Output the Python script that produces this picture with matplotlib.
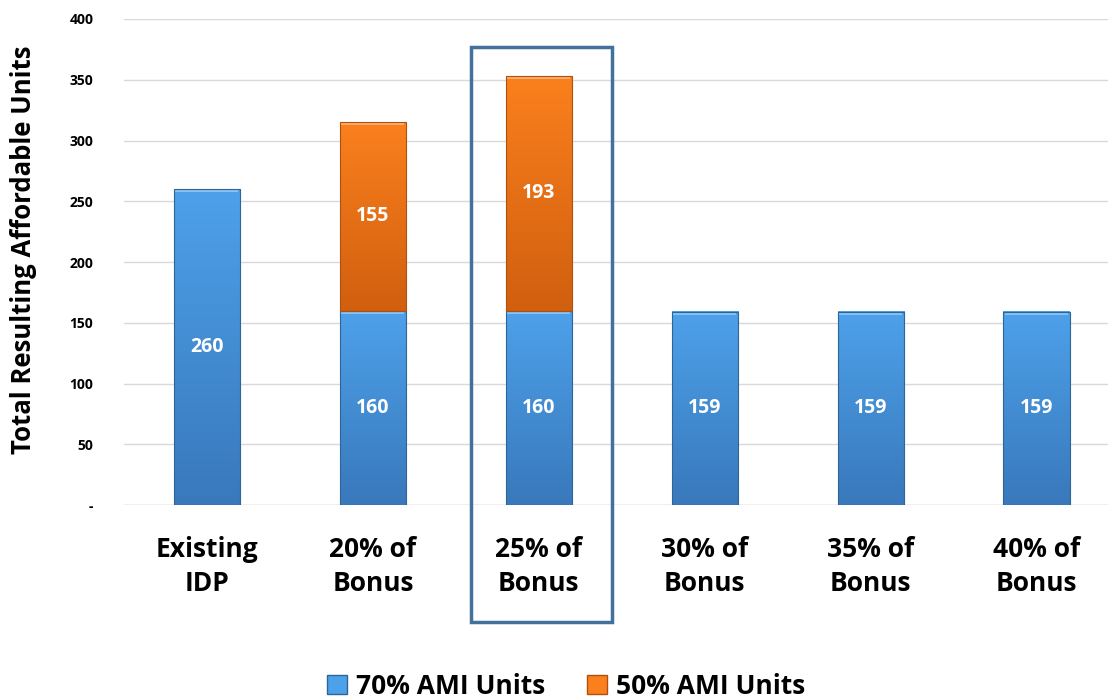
import numpy as np
import matplotlib.pyplot as plt
from matplotlib.colors import LinearSegmentedColormap
from matplotlib.patches import Rectangle

categories = ["Existing\nIDP", "20% of\nBonus", "25% of\nBonus",
              "30% of\nBonus", "35% of\nBonus", "40% of\nBonus"]
ami70 = [260, 160, 160, 159, 159, 159]
ami50 = [0, 155, 193, 0, 0, 0]
series_names = ["70% AMI Units", "50% AMI Units"]
highlight = 2  # the 25% option gets a box around it

plt.rcParams["font.family"] = ["Open Sans", "DejaVu Sans"]
plt.rcParams["font.weight"] = "bold"

BLUE_TOP, BLUE_BOT = "#4da1ea", "#3978bb"
ORANGE_TOP, ORANGE_BOT = "#fb801d", "#d05f0f"
W = 0.4


def gradient_bar(ax, x, bottom, height, top_c, bot_c, edge):
    if height <= 0:
        return
    cmap = LinearSegmentedColormap.from_list("g", [bot_c, top_c])
    grad = np.linspace(0, 1, 256).reshape(-1, 1)
    ax.imshow(grad, cmap=cmap, aspect="auto", origin="lower",
              extent=(x - W / 2, x + W / 2, bottom, bottom + height), zorder=2)
    # light bevel along the top edge
    ax.add_patch(Rectangle((x - W / 2, bottom + height - 4), W, 4,
                           color=top_c, alpha=0.9, lw=0, zorder=3))
    ax.add_patch(Rectangle((x - W / 2 + 0.01, bottom + height - 2.5), W - 0.02, 2.5,
                           color="white", alpha=0.35, lw=0, zorder=3))
    ax.add_patch(Rectangle((x - W / 2, bottom), W, height, fill=False,
                           edgecolor=edge, lw=0.8, zorder=4))


fig = plt.figure(figsize=(11.08, 7.0), dpi=100)
ax = fig.add_axes([124 / 1108, 195 / 700, (1108 - 124) / 1108, 486 / 700])

x = np.arange(len(categories))
for i in x:
    gradient_bar(ax, i, 0, ami70[i], BLUE_TOP, BLUE_BOT, "#2f6496")
    gradient_bar(ax, i, ami70[i], ami50[i], ORANGE_TOP, ORANGE_BOT, "#b0500f")
    ax.text(i, ami70[i] / 2, str(ami70[i]), ha="center", va="center",
            color="white", fontsize=14, fontweight="bold", zorder=5)
    if ami50[i] > 0:
        ax.text(i, ami70[i] + ami50[i] / 2, str(ami50[i]), ha="center", va="center",
                color="white", fontsize=14, fontweight="bold", zorder=5)

ax.set_xlim(-0.5, 5.43)
ax.set_ylim(0, 400)
ax.set_yticks(np.arange(0, 401, 50))
ax.set_yticklabels(["-"] + [str(v) for v in range(50, 401, 50)],
                   fontsize=10, fontweight="bold")
ax.set_xticks(x)
ax.set_xticklabels(categories, fontsize=19, fontweight="bold", linespacing=1.35)
ax.tick_params(axis="both", length=0)
ax.tick_params(axis="y", pad=22)
ax.tick_params(axis="x", pad=22)
ax.grid(axis="y", color="#d9d9d9", lw=1, zorder=0)
ax.set_axisbelow(True)
for s in ax.spines.values():
    s.set_visible(False)
ax.axhline(0, color="#d0d0d0", lw=1, zorder=1)

ax.set_ylabel("Total Resulting Affordable Units", fontsize=18.5, fontweight="bold")
ax.yaxis.set_label_coords(-0.088, 0.525)

box = Rectangle((highlight - 0.41, -96), 0.85, 473, fill=False,
                edgecolor="#41719c", lw=2.5, clip_on=False, zorder=6)
ax.add_patch(box)

handles = [Rectangle((0, 0), 1, 1, facecolor=BLUE_TOP, edgecolor="#2f6496"),
           Rectangle((0, 0), 1, 1, facecolor=ORANGE_TOP, edgecolor="#b0500f")]
fig.legend(handles, series_names, loc="center", bbox_to_anchor=(0.511, 0.02),
           ncol=2, frameon=False, prop={"size": 19, "weight": "bold"},
           handlelength=0.75, handleheight=0.75, handletextpad=0.35,
           columnspacing=1.6)

fig.savefig("out.png", dpi=100)
